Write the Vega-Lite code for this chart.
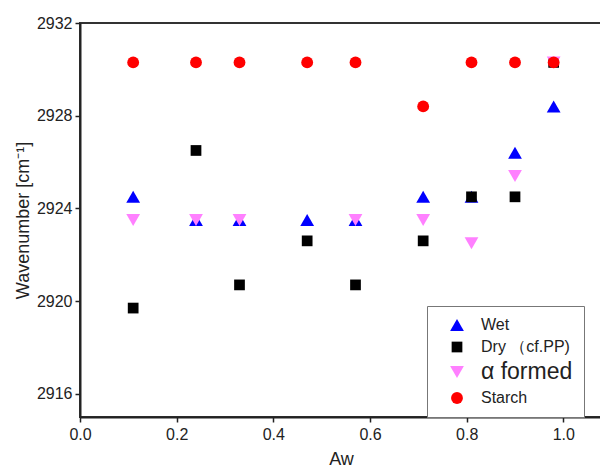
{
  "$schema": "https://vega.github.io/schema/vega-lite/v6.json",
  "width": 522,
  "height": 394,
  "autosize": {"type": "none"},
  "padding": {"left": 80, "top": 23, "right": 0, "bottom": 51},
  "background": "white",
  "config": {
    "font": "Liberation Sans",
    "view": {"stroke": "#333333", "strokeWidth": 2},
    "axis": {"grid": false, "labelFlush": false, "domainColor": "#222222", "domainWidth": 2, "tickColor": "#222222", "tickWidth": 1.5, "tickSize": 5, "labelColor": "#222222", "labelFontSize": 16, "titleColor": "#222222", "titleFontSize": 18, "titleFontWeight": "normal"}
  },
  "data": {
    "values": [
      {"Aw": 0.11, "wn": 2924.5, "series": "Wet"},
      {"Aw": 0.24, "wn": 2923.5, "series": "Wet"},
      {"Aw": 0.33, "wn": 2923.5, "series": "Wet"},
      {"Aw": 0.47, "wn": 2923.5, "series": "Wet"},
      {"Aw": 0.57, "wn": 2923.5, "series": "Wet"},
      {"Aw": 0.71, "wn": 2924.5, "series": "Wet"},
      {"Aw": 0.81, "wn": 2924.5, "series": "Wet"},
      {"Aw": 0.90, "wn": 2926.4, "series": "Wet"},
      {"Aw": 0.98, "wn": 2928.4, "series": "Wet"},
      {"Aw": 0.11, "wn": 2919.7, "series": "Dry （cf.PP)"},
      {"Aw": 0.24, "wn": 2926.5, "series": "Dry （cf.PP)"},
      {"Aw": 0.33, "wn": 2920.7, "series": "Dry （cf.PP)"},
      {"Aw": 0.47, "wn": 2922.6, "series": "Dry （cf.PP)"},
      {"Aw": 0.57, "wn": 2920.7, "series": "Dry （cf.PP)"},
      {"Aw": 0.71, "wn": 2922.6, "series": "Dry （cf.PP)"},
      {"Aw": 0.81, "wn": 2924.5, "series": "Dry （cf.PP)"},
      {"Aw": 0.90, "wn": 2924.5, "series": "Dry （cf.PP)"},
      {"Aw": 0.98, "wn": 2930.3, "series": "Dry （cf.PP)"},
      {"Aw": 0.11, "wn": 2923.5, "series": "α formed"},
      {"Aw": 0.24, "wn": 2923.5, "series": "α formed"},
      {"Aw": 0.33, "wn": 2923.5, "series": "α formed"},
      {"Aw": 0.57, "wn": 2923.5, "series": "α formed"},
      {"Aw": 0.71, "wn": 2923.5, "series": "α formed"},
      {"Aw": 0.81, "wn": 2922.5, "series": "α formed"},
      {"Aw": 0.90, "wn": 2925.4, "series": "α formed"},
      {"Aw": 0.98, "wn": 2930.3, "series": "α formed"},
      {"Aw": 0.11, "wn": 2930.3, "series": "Starch"},
      {"Aw": 0.24, "wn": 2930.3, "series": "Starch"},
      {"Aw": 0.33, "wn": 2930.3, "series": "Starch"},
      {"Aw": 0.47, "wn": 2930.3, "series": "Starch"},
      {"Aw": 0.57, "wn": 2930.3, "series": "Starch"},
      {"Aw": 0.71, "wn": 2928.4, "series": "Starch"},
      {"Aw": 0.81, "wn": 2930.3, "series": "Starch"},
      {"Aw": 0.90, "wn": 2930.3, "series": "Starch"},
      {"Aw": 0.98, "wn": 2930.3, "series": "Starch"}
    ]
  },
  "mark": {"type": "point", "filled": true, "opacity": 1},
  "encoding": {
    "x": {
      "field": "Aw", "type": "quantitative",
      "scale": {"domain": [0, 1.08], "nice": false, "zero": false},
      "axis": {"values": [0, 0.2, 0.4, 0.6, 0.8, 1.0], "format": ".1f", "title": "Aw", "titlePadding": 8, "labelPadding": 4}
    },
    "y": {
      "field": "wn", "type": "quantitative",
      "scale": {"domain": [2915, 2932], "nice": false, "zero": false},
      "axis": {"values": [2916, 2920, 2924, 2928, 2932], "format": "d", "title": "Wavenumber [cm⁻¹]", "titlePadding": 4, "labelPadding": 3}
    },
    "color": {
      "field": "series", "type": "nominal",
      "scale": {"domain": ["Wet", "Dry （cf.PP)", "α formed", "Starch"], "range": ["#0000ff", "#000000", "#ff80ff", "#ff0000"]},
      "legend": {
        "title": null,
        "orient": "none",
        "legendX": 347,
        "legendY": 283,
        "strokeColor": "#777777",
        "fillColor": "white",
        "padding": 11,
        "symbolSize": 110,
        "symbolOffset": 11,
        "labelOffset": 16,
        "labelFontSize": 16,
        "labelColor": "#222222",
        "rowPadding": 6,
        "symbolOpacity": 1,
        "encode": {"labels": {"update": {"fontSize": {"signal": "datum.label === 'α formed' ? 23 : 16"}}}}
      }
    },
    "shape": {
      "field": "series", "type": "nominal",
      "scale": {"domain": ["Wet", "Dry （cf.PP)", "α formed", "Starch"], "range": ["triangle-up", "square", "triangle-down", "circle"]}
    },
    "size": {
      "field": "series", "type": "nominal",
      "scale": {"type": "ordinal", "domain": ["Wet", "Dry （cf.PP)", "α formed", "Starch"], "range": [190, 115, 190, 140]},
      "legend": null
    }
  }
}
